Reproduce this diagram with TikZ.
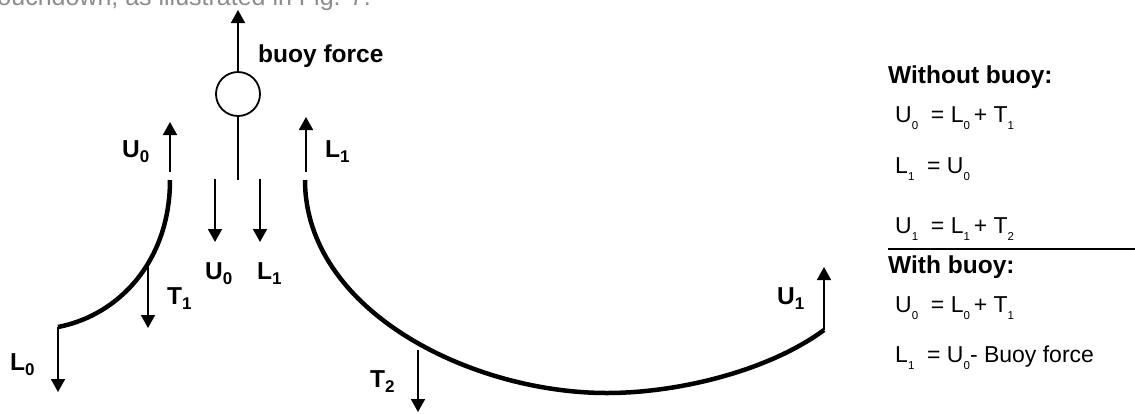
\documentclass[tikz,border=0pt]{standalone}
\usepackage{fontspec}
\setmainfont{Liberation Sans}
\usetikzlibrary{arrows.meta}
\newcommand{\lsb}[1]{\raisebox{-5pt}{\fontsize{17}{17}\selectfont\bfseries #1}}
\newcommand{\esb}[1]{\raisebox{-7pt}{\fontsize{11.5}{11.5}\selectfont #1}}
\definecolor{pagegray}{RGB}{140,140,140}
\begin{document}
\begin{tikzpicture}[x=1pt,y=-1pt,
  force/.style={line width=1.8pt,-{Triangle[width=14pt,length=13pt]}},
  thinline/.style={line width=1.8pt},
  cable/.style={line width=4.5pt},
  lbl/.style={anchor=base west,inner sep=0pt,font=\fontsize{24.5}{24.5}\selectfont\bfseries},
  eq/.style={anchor=base west,inner sep=0pt,font=\fontsize{23}{23}\selectfont},
  head/.style={anchor=base west,inner sep=0pt,font=\fontsize{24.5}{24.5}\selectfont\bfseries}]
\useasboundingbox (0,0) rectangle (1135,413);
\clip (0,0) rectangle (1135,413);

% stray page text
\node[anchor=base east,inner sep=0pt,text=pagegray,font=\fontsize{25}{25}\selectfont] (pagetext) at (371,5.5) {touchdown, as illustrated in Fig. 7.};

% buoy
\node[circle,draw,thinline,minimum size=44pt,inner sep=0pt] (buoy) at (238,94) {};
\coordinate (bftip) at (238,10);
\coordinate (ropeend) at (238,180);
\draw[force] (buoy.north) -- (bftip);
\draw[thinline] (buoy.south) -- (ropeend);
\node[lbl] (lbf) at (258,62) {buoy force};

% left cable
\coordinate (c1top) at (170,180);
\coordinate (c1end) at (58,327);
\coordinate (t1pt) at (148,265);
\draw[cable] (c1top) .. controls (170,260) and (120,315) .. (c1end);

% right cable
\coordinate (c2top) at (305,180);
\coordinate (c2bot) at (607,393);
\coordinate (c2end) at (824,330);
\coordinate (t2pt) at (418,350);
\draw[cable] (c2top) .. controls (305,310) and (470,393) .. (c2bot)
             .. controls (680,393) and (770,370) .. (c2end);

% force arrows
\coordinate (u0a0) at (170,172); \coordinate (u0a1) at (170,122);
\coordinate (l1a0) at (306,172); \coordinate (l1a1) at (306,117);
\coordinate (u0b0) at (215,179); \coordinate (u0b1) at (215,242);
\coordinate (l1b0) at (260,179); \coordinate (l1b1) at (260,242);
\coordinate (t1tip) at (148,328);
\coordinate (l0tip) at (58,392);
\coordinate (t2tip) at (418,412);
\coordinate (u1tip) at (824,267);
\draw[force] (u0a0) -- (u0a1);
\draw[force] (l1a0) -- (l1a1);
\draw[force] (u0b0) -- (u0b1);
\draw[force] (l1b0) -- (l1b1);
\draw[force] (t1pt) -- (t1tip);
\draw[force] (c1end) -- (l0tip);
\draw[force] (t2pt) -- (t2tip);
\draw[force] (c2end) -- (u1tip);

% labels
\node[lbl] (lU0a) at (122,157) {U\lsb{0}};
\node[lbl] (lL1a) at (325,157) {L\lsb{1}};
\node[lbl] (lU0b) at (205,279) {U\lsb{0}};
\node[lbl] (lL1b) at (257,279) {L\lsb{1}};
\node[lbl] (lT1) at (167,304) {T\lsb{1}};
\node[lbl] (lL0) at (10,370.5) {L\lsb{0}};
\node[lbl] (lT2) at (370,387.5) {T\lsb{2}};
\node[lbl] (lU1) at (777,304) {U\lsb{1}};

% equations
\node[head] (hwo) at (888,83) {Without buoy:};
\node[eq] (eq1) at (895,122) {U\esb{0}\ \ = L\esb{0}\,+ T\esb{1}};
\node[eq] (eq2) at (895,173) {L\esb{1}\ \ = U\esb{0}};
\node[eq] (eq3) at (895,233) {U\esb{1}\ \ = L\esb{1}\,+ T\esb{2}};
\coordinate (sepL) at (888,249);
\coordinate (sepR) at (1135,249);
\draw[thinline] (sepL) -- (sepR);
\node[head] (hw) at (888,273) {With buoy:};
\node[eq] (eq4) at (895,312) {U\esb{0}\ \ = L\esb{0}\,+ T\esb{1}};
\node[eq] (eq5) at (895,362) {L\esb{1}\ \ = U\esb{0}- Buoy force};
\end{tikzpicture}
\end{document}
